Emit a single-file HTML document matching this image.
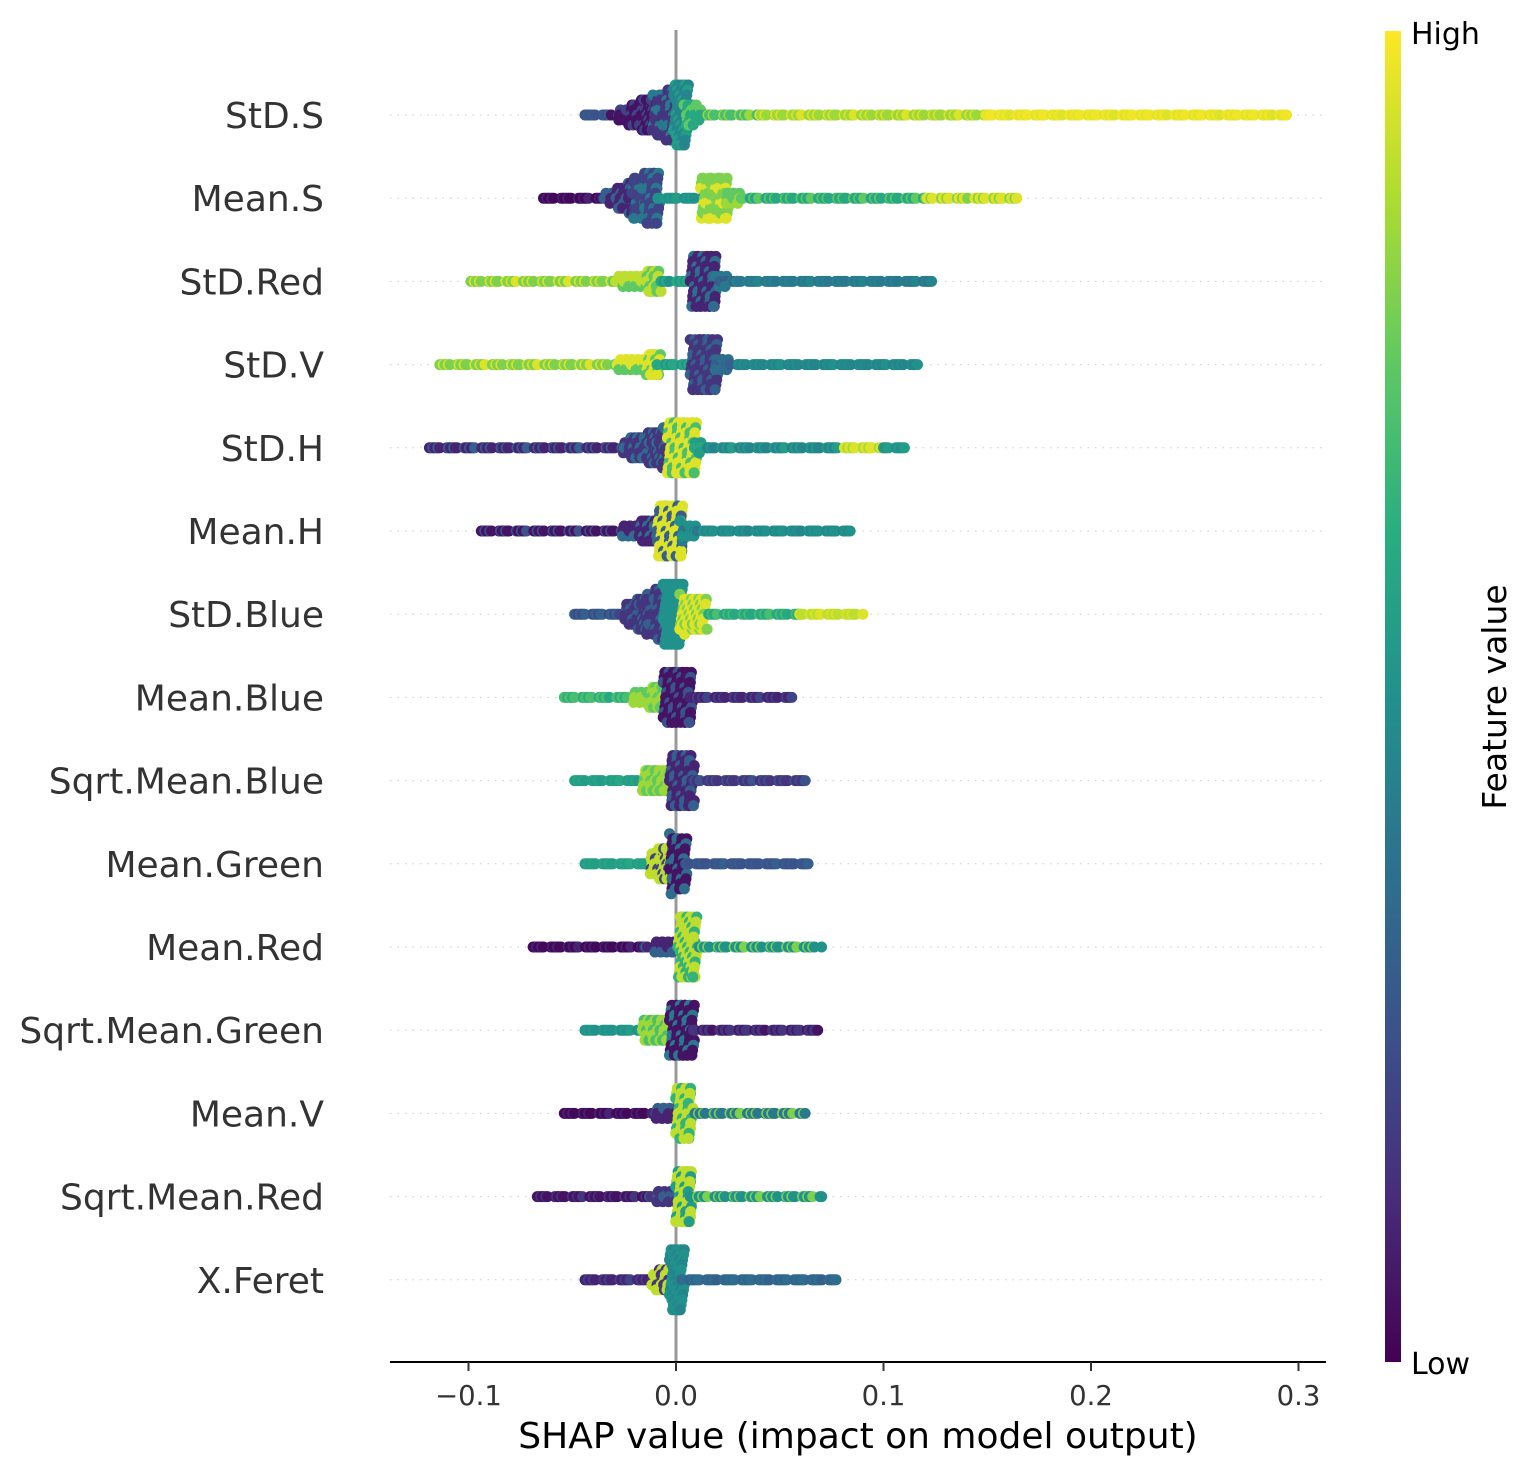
<!DOCTYPE html>
<html><head><meta charset="utf-8"><style>
body{margin:0;background:#fff}
svg{display:block;font-family:"DejaVu Sans","Liberation Sans",sans-serif}
</style></head><body>
<svg id="chart" width="1534" height="1476" viewBox="0 0 1534 1476" xmlns="http://www.w3.org/2000/svg">
<defs><linearGradient id="vir" x1="0" y1="1" x2="0" y2="0">
<stop offset="0" stop-color="#440154"/><stop offset="0.125" stop-color="#472d7b"/><stop offset="0.25" stop-color="#3b528b"/><stop offset="0.375" stop-color="#2c728e"/><stop offset="0.5" stop-color="#21918c"/><stop offset="0.625" stop-color="#28ae80"/><stop offset="0.75" stop-color="#5ec962"/><stop offset="0.875" stop-color="#addc30"/><stop offset="1" stop-color="#fde725"/>
</linearGradient></defs>
<g id="grid"></g>
<line x1="676" y1="30" x2="676" y2="1362" stroke="#999" stroke-width="3"/>
<g id="dots"></g>
<g id="labels"></g>
<line x1="390" y1="1362" x2="1326" y2="1362" stroke="#000" stroke-width="2"/>
<g id="ticks"></g>
<text x="858" y="1448" font-size="36" text-anchor="middle" fill="#000">SHAP value (impact on model output)</text>
<rect x="1385" y="31" width="16" height="1331" fill="url(#vir)"/>
<text x="1411" y="44" font-size="30" fill="#000">High</text>
<text x="1411" y="1374" font-size="30" fill="#000">Low</text>
<text transform="translate(1506,697) rotate(-90)" font-size="33" text-anchor="middle" fill="#000">Feature value</text>
</svg>
<script>
const features = ["StD.S","Mean.S","StD.Red","StD.V","StD.H","Mean.H","StD.Blue","Mean.Blue","Sqrt.Mean.Blue","Mean.Green","Mean.Red","Sqrt.Mean.Green","Mean.V","Sqrt.Mean.Red","X.Feret"];
const tickValues = [-0.1, 0.0, 0.1, 0.2, 0.3];
const tickLabels = ["\u22120.1","0.0","0.1","0.2","0.3"];
// segments per feature: [shapStart, shapEnd, spreadStart, spreadEnd, colorA, colorB]
const segS0 = [[-0.045,-0.03,0,3,0.25,0.3],[-0.03,-0.01,3,20,0.05,0.2],[-0.01,0,20,30,0.15,0.4],[0,0.005,30,30,0.45,0.55],[0.005,0.015,14,3,0.6,0.75],[0.015,0.04,0,0,0.7,0.85],[0.04,0.15,0,0,0.85,0.95],[0.15,0.295,0,0,0.98,0.95]];
const segS1 = [[-0.065,-0.035,0,3,0.02,0.1],[-0.035,-0.02,3,18,0.1,0.3],[-0.02,-0.008,22,28,0.2,0.4],[-0.008,0.015,0,0,0.5,0.55],[0.013,0.025,20,25,0.8,0.95],[0.025,0.035,8,2,0.75,0.85],[0.035,0.12,0,0,0.6,0.75],[0.12,0.165,0,0,0.95,0.8]];
const segS2 = [[-0.1,-0.03,0,3,0.8,0.95],[-0.03,-0.008,4,12,0.9,0.75],[-0.008,0.008,0,0,0.6,0.5],[0.008,0.02,28,30,0.1,0.35],[0.02,0.03,8,2,0.4,0.3],[0.03,0.125,0,0,0.4,0.45]];
const segS3 = [[-0.115,-0.03,0,3,0.8,0.95],[-0.03,-0.008,4,12,0.95,0.75],[-0.008,0.008,0,0,0.6,0.5],[0.008,0.02,28,30,0.15,0.3],[0.02,0.03,8,2,0.35,0.3],[0.03,0.117,0,0,0.45,0.5]];
const segS4 = [[-0.12,-0.025,0,3,0.1,0.3],[-0.025,-0.003,8,22,0.15,0.35],[-0.003,0.01,28,30,0.95,0.7],[0.01,0.015,8,3,0.55,0.6],[0.015,0.08,0,0,0.45,0.55],[0.08,0.1,0,0,0.95,0.85],[0.1,0.112,0,0,0.5,0.55]];
const segS5 = [[-0.095,-0.025,0,3,0.05,0.25],[-0.025,-0.008,6,15,0.1,0.35],[-0.008,0.003,28,30,0.95,0.3],[0.003,0.012,10,3,0.5,0.4],[0.012,0.085,0,0,0.5,0.45]];
const segS6 = [[-0.05,-0.025,0,3,0.3,0.2],[-0.025,-0.005,8,30,0.15,0.3],[-0.005,0.003,30,30,0.5,0.5],[0.003,0.015,20,15,0.95,0.8],[0.015,0.06,0,0,0.6,0.7],[0.06,0.09,0,0,0.9,0.95]];
const segS7 = [[-0.055,-0.02,0,2,0.7,0.6],[-0.02,-0.005,8,12,0.85,0.75],[-0.005,0.008,28,30,0.05,0.25],[0.008,0.057,0,0,0.1,0.2]];
const segS8 = [[-0.05,-0.015,0,2,0.55,0.6],[-0.015,-0.002,10,15,0.85,0.75],[-0.002,0.008,28,30,0.1,0.3],[0.008,0.064,0,0,0.15,0.25]];
const segS9 = [[-0.045,-0.012,0,3,0.55,0.6],[-0.012,-0.002,12,20,0.9,0.2],[-0.002,0.005,30,28,0.05,0.35],[0.005,0.065,0,0,0.25,0.3]];
const segS10 = [[-0.07,-0.015,0,2,0.02,0.1],[-0.015,0,4,8,0.1,0.3],[0.002,0.01,30,30,0.9,0.65],[0.01,0.07,0,0,0.5,0.8]];
const segS11 = [[-0.045,-0.015,0,3,0.5,0.55],[-0.015,-0.002,10,14,0.85,0.7],[-0.002,0.008,28,30,0.05,0.4],[0.008,0.07,0,0,0.15,0.05]];
const segS12 = [[-0.055,-0.012,0,2,0.02,0.1],[-0.012,0,4,8,0.1,0.3],[0.001,0.008,28,30,0.9,0.65],[0.008,0.063,0,0,0.4,0.8]];
const segS13 = [[-0.068,-0.012,0,2,0.05,0.15],[-0.012,0,4,10,0.15,0.3],[0.001,0.008,28,30,0.9,0.55],[0.008,0.07,0,0,0.5,0.8]];
const segS14 = [[-0.045,-0.012,0,2,0.1,0.2],[-0.012,-0.002,8,14,0.9,0.15],[-0.002,0.004,30,30,0.5,0.45],[0.004,0.078,0,0,0.35,0.3]];
const segments = [segS0,segS1,segS2,segS3,segS4,segS5,segS6,segS7,segS8,segS9,segS10,segS11,segS12,segS13,segS14];

const NS="http://www.w3.org/2000/svg";
const xs = v => 676 + v*2075;
const ys = i => 115 + i*83.2;
const VIR=[[68,1,84],[71,45,123],[59,82,139],[44,114,142],[33,145,140],[40,174,128],[94,201,98],[173,220,48],[253,231,37]];
function vcol(t){t=Math.max(0,Math.min(1,t));const p=t*8,i=Math.min(7,Math.floor(p)),f=p-i;const a=VIR[i],b=VIR[i+1];return `rgb(${a.map((c,k)=>Math.round(c+(b[k]-c)*f)).join(',')})`;}

const grid=document.getElementById('grid'),dots=document.getElementById('dots'),labels=document.getElementById('labels'),ticks=document.getElementById('ticks');
features.forEach((f,i)=>{
  const y=ys(i);
  const g=document.createElementNS(NS,'line');
  
  
  g.setAttribute('x1',390);g.setAttribute('x2',1326);g.setAttribute('y1',y);g.setAttribute('y2',y);
  g.setAttribute('stroke','#ccc');g.setAttribute('stroke-width','1');g.setAttribute('stroke-dasharray','1.5 6');
  grid.appendChild(g);
  const t=document.createElementNS(NS,'text');
  
  
  t.setAttribute('x',324);t.setAttribute('y',y+13);t.setAttribute('text-anchor','end');t.setAttribute('font-size','36');t.setAttribute('fill','#333');
  t.textContent=f;labels.appendChild(t);
  const grp=document.createElementNS(NS,'g');
  
  
  let n=0;
  segments[i].forEach(s=>{
    const x0=xs(s[0]),x1=xs(s[1]);
    for(let x=x0;x<=x1;x+=2.5){
      const fr=(x1===x0)?0:(x-x0)/(x1-x0);
      const h=s[2]+(s[3]-s[2])*fr;
      const k=Math.floor(h/5);
      for(let j=-k;j<=k;j++){
        n++;
        const c=document.createElementNS(NS,'circle');
        const dx=((n*13)%7-3)*0.8;
        c.setAttribute('cx',(x+dx).toFixed(1));c.setAttribute('cy',(y+j*5).toFixed(1));c.setAttribute('r',5.5);
        c.setAttribute('fill',vcol(((n*7+j)%3===0)?s[5]:s[4]));
        grp.appendChild(c);
      }
    }
  });
  dots.appendChild(grp);
});
tickValues.forEach((v,i)=>{
  const x=xs(v);
  const l=document.createElementNS(NS,'line');
  
  
  l.setAttribute('x1',x);l.setAttribute('x2',x);l.setAttribute('y1',1362);l.setAttribute('y2',1371);l.setAttribute('stroke','#333');l.setAttribute('stroke-width','2');
  ticks.appendChild(l);
  const t=document.createElementNS(NS,'text');
  
  
  t.setAttribute('x',x);t.setAttribute('y',1405);t.setAttribute('text-anchor','middle');t.setAttribute('font-size','27.5');t.setAttribute('fill','#333');
  t.textContent=tickLabels[i];ticks.appendChild(t);
});
</script>
</body></html>
